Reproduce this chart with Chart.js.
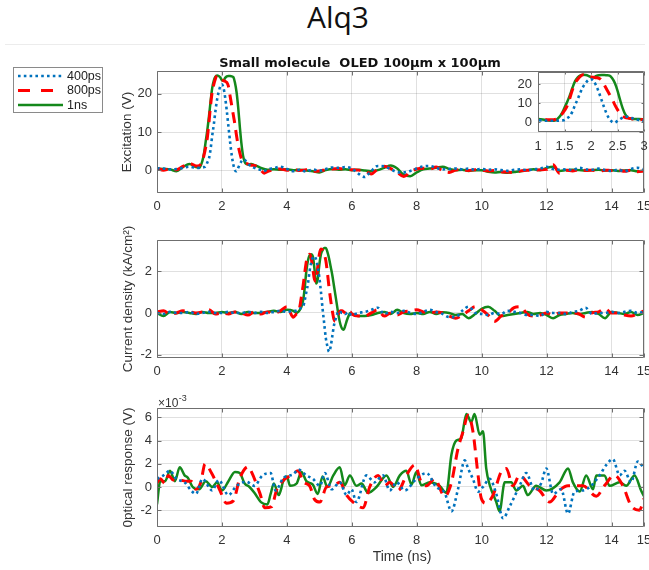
<!DOCTYPE html>
<html>
<head>
<meta charset="utf-8">
<script src="https://cdn.jsdelivr.net/npm/chart.js@4.4.1/dist/chart.umd.min.js"></script>
<style>
html,body{margin:0;padding:0;background:#fff;}
#wrap{position:relative;width:649px;height:570px;overflow:hidden;background:#fff;}
#wrap canvas{position:absolute;left:0;top:0;}
#ttl{position:absolute;left:238px;top:0;width:200px;text-align:center;font-family:'Open Sans',sans-serif;font-size:30px;line-height:34px;color:#111;}
#sep{position:absolute;left:5px;top:44px;width:640px;height:1px;background:#ececec;}
</style>
</head>
<body>
<div id="wrap">
  <div id="ttl">Alq3</div>
  <div id="sep"></div>
  <canvas id="c1" width="649" height="570"></canvas>
  <canvas id="c2" width="649" height="570"></canvas>
  <canvas id="c3" width="649" height="570"></canvas>
  <canvas id="c4" width="649" height="570"></canvas>
</div>
<script>
// ---------------- DATA ----------------
const seriesNames = ['400ps', '800ps', '1ns'];

// Panel 1: Excitation (V)
const t1 = [0,0.2,0.4,0.6,0.8,1.0,1.2,1.3,1.4,1.45,1.5,1.55,1.6,1.65,1.7,1.75,1.8,1.85,1.9,1.95,2.0,2.05,2.1,2.15,2.2,2.25,2.3,2.35,2.4,2.45,2.5,2.55,2.6,2.65,2.7,2.75,2.8,2.9,3.0,3.1,3.2,3.3,
  3.4,3.6,3.8,4.0,4.2,4.4,4.6,4.8,5.0,5.2,5.4,5.6,5.8,6.0,6.2,6.4,6.6,6.8,7.0,7.2,7.4,7.6,7.8,8.0,8.2,8.4,8.6,8.8,9.0,9.2,9.4,9.6,9.8,10.0,
  10.2,10.4,10.6,10.8,11.0,11.2,11.4,11.6,11.8,12.0,12.2,12.4,12.6,12.8,13.0,13.2,13.4,13.6,13.8,14.0,14.2,14.4,14.6,14.8,15.0];
const exc400 = [0.5,0.4,0.2,0.3,0.6,0.9,0.6, 0.6,0.7,
  0.8,1.0,2.0,3.0,5.5,9.0,12.0,15.5,18.5,20.5,22.0,22.5,21.5,19.0,15.5,11.5,7.5,4.0,1.5,0.0,-0.3,0.6,1.5,2.3,2.8,2.7,2.2,1.7,
  1.0,0.6,0.3,0.0,-0.2,
  0.2,0.5,0.9,0.3,-0.3,0.1,-0.4,0.2,-0.2,0.3, 0.7,0.6,0.8,0.4,-0.9,-1.8,-0.2,1.1,1.0,0.2,
  -0.5,-0.6,-0.2,0.4,1.0,1.1,0.6,0.2,0.3,0.4, 0.2,0.4,0.1,0.3,0.1,0.2,0.0,-0.2,0.1,0.2,
  0.0,0.2,0.4,0.9,0.3,0.1,0.2,0.0,0.6,0.2, 0.1,0.4,0.0,-0.2,0.1,-0.3,0.3,0.6,0.2];
const exc800 = [0.5,0.0,0.3,0.1,1.0,1.8,1.1, 1.2,2.5,
  4.0,6.0,8.5,12.5,17.0,20.5,22.5,24.0,24.8,24.5,24.0,23.7,23.5,23.3,23.0,22.0,19.5,17.0,14.5,12.0,9.0,6.5,4.5,3.0,2.3,2.0,1.8,1.6,
  1.3,1.2,0.8,0.0,-0.8,
  -0.4,0.1,0.3,0.0,0.2,-0.1,0.1,-0.3,-0.2,0.1, 0.3,0.4,0.2,0.1,0.0,-0.2,-1.0,0.3,1.0,0.4,
  -0.6,-1.7,-0.5,0.3,0.5,0.3,0.8,-0.2,-0.6,0.0, 0.2,-0.1,0.1,0.0,-0.2,-0.1,-0.4,-0.5,-0.7,-0.2,
  0.0,-0.1,0.1,0.2,1.4,-0.8,0.0,-0.2,0.1,-0.1, 0.0,-0.3,0.0,-0.1,0.1,-0.3,0.0,-0.4,-0.2];
const exc1ns = [0.4,0.3,0.2,-0.3,0.8,1.6,0.8, 0.6,2.5,
  4.5,7.5,10.5,14.0,18.0,21.5,23.5,24.5,24.8,24.7,24.3,23.6,23.5,24.2,24.6,24.7,24.7,24.6,24.4,23.0,20.5,16.5,11.5,7.0,3.8,2.2,1.6,1.5,
  1.6,1.3,1.0,0.6,0.3,
  0.1,0.2,0.1,0.2,0.0,0.1,-0.1,-0.3,-0.6,0.0, 0.3,0.1,0.2,0.0,0.1,-0.1,-0.3,0.0,0.6,1.2,
  0.4,-1.2,-1.6,-0.6,0.2,0.4,0.6,0.9,0.3,0.0, 0.1,-0.2,0.0,0.0,-0.4,-0.6,-0.5,-0.7,-0.5,-0.3,
  0.0,0.2,0.0,0.6,0.9,-0.2,0.0,0.1,0.0,-0.1, 0.0,0.1,-0.1,0.0,-0.2,-0.1,0.0,-0.3,-0.2];

// Panel 2: Current density (kA/cm^2)
const t2 = [0,0.2,0.4,0.6,0.8,1.0,1.2,1.4,1.6,1.8,2.0,2.2,2.4,2.6,2.8,3.0,3.2,3.4,3.6,3.8,4.0,4.2,
  4.3,4.35,4.4,4.45,4.5,4.55,4.6,4.65,4.7,4.75,4.8,4.85,4.9,4.95,5.0,5.05,5.1,5.15,5.2,5.25,5.3,5.35,5.4,5.45,5.5,5.55,5.6,5.65,5.7,5.75,5.8,5.85,5.9,5.95,6.0,
  6.2,6.4,6.6,6.8,7.0,7.2,7.4,7.6,7.8,8.0,8.2,8.4,8.6,8.8,9.0,9.2,9.4,9.6,9.8,10.0,
  10.2,10.4,10.6,10.8,11.0,11.2,11.4,11.6,11.8,12.0,12.2,12.4,12.6,12.8,13.0,13.2,13.4,13.6,13.8,14.0,14.2,14.4,14.6,14.8,15.0];
const cur400 = [0.0,-0.05,0.05,0.0,0.0,0.05,-0.05,0.0,0.05,0.0,0.0,0.05,0.0,0.0,0.05,0.0,0.05,0.0,0.05,0.1,0.05,0.1,
  0.1,0.15,0.2,0.25,0.3,0.6,1.0,1.4,2.0,2.4,2.65,2.7,2.55,2.2,1.7,1.0,0.2,-0.5,-1.2,-1.6,-1.85,-1.6,-1.1,-0.6,-0.3,-0.05,0.1,0.05,0.0,0.0,-0.05,0.0,0.05,-0.05,-0.1,
  0.0,0.05,0.15,0.25,-0.05,0.05,0.0,0.1,0.0,-0.05, 0.05,0.15,0.05,-0.05,-0.2,-0.2,0.1,0.3,0.0,-0.05,
  -0.1,0.0,-0.05,0.1,0.05,0.0,-0.1,-0.1,-0.15,0.05, 0.0,0.0,-0.05,0.05,0.1,0.25,-0.05,0.0,0.0,0.05, 0.0,0.05,0.1,0.0,0.05];
const cur800 = [0.05,0.1,-0.05,0.0,0.1,0.05,0.0,0.05,0.15,-0.05,0.0,-0.05,0.05,0.0,-0.1,0.05,-0.05,0.05,0.0,0.1,0.3,-0.2,
  -0.05,0.0,0.3,0.8,1.3,1.9,2.45,2.7,2.8,2.6,2.1,1.6,1.5,2.2,2.8,3.05,3.0,2.8,2.5,1.9,1.2,0.6,0.1,-0.3,-0.4,-0.2,0.0,0.1,0.1,0.05,0.0,-0.1,0.0,0.05,-0.05,
  -0.15,-0.15,0.0,0.15,-0.15,0.0,-0.1,0.05,0.1,0.15, 0.05,0.0,0.05,0.0,-0.15,-0.25,-0.1,0.1,0.3,0.15,
  -0.1,-0.4,-0.15,0.0,0.25,0.3,-0.05,-0.15,-0.1,0.0, -0.1,0.0,0.0,0.0,-0.05,-0.2,0.0,0.05,0.2,0.0, 0.0,-0.1,-0.15,-0.05,0.1];
const cur1ns = [0.0,-0.15,0.05,0.0,0.05,0.0,-0.05,0.05,0.0,0.0,0.05,0.0,0.05,-0.05,0.05,0.0,0.0,0.05,0.1,0.05,0.15,0.1,
  0.0,0.05,0.15,0.3,0.6,1.2,2.0,2.5,2.75,2.8,2.7,2.1,1.4,1.6,2.3,2.8,3.0,3.1,3.1,2.9,2.6,2.2,1.8,1.3,0.8,0.3,-0.2,-0.55,-0.75,-0.8,-0.6,-0.35,-0.15,0.0,-0.05,
  -0.15,-0.15,-0.1,0.0,0.05,-0.05,0.15,0.0,-0.05,0.0, -0.05,0.05,-0.05,0.03,0.0,-0.1,-0.05,-0.25,-0.05,0.2,
  0.3,0.1,-0.15,-0.1,-0.05,0.0,0.05,-0.05,0.0,-0.1, -0.25,-0.1,-0.05,0.0,-0.05,0.0,0.05,-0.05,-0.25,0.05, 0.0,-0.05,0.05,-0.1,0.0];

// Panel 3: Optical response (values in units of 1e-3 V)
const t3_400 = [0,0.2,0.4,0.6,0.85,1.05,1.2,1.4,1.7,1.9,2.2,2.45,2.75,3.0,3.25,3.5,3.65,3.9,4.2,4.35,4.6,4.8,5.02,5.17,5.38,5.63,5.84,5.99,6.14,6.45,
  6.7,6.96,7.17,7.38,7.63,7.99,8.3,8.6,8.86,9.07,9.27,9.48,9.58,9.73,9.89,10.04,10.25,10.45,10.66,10.86,11.17,11.37,11.63,11.83,11.99,12.2,12.45,12.66,12.86,13.12,
  13.37,13.63,13.84,14.04,14.25,14.4,14.6,14.81,15.0];
const opt400 = [0.7,1.0,1.4,0.7,0.4,-0.3,-0.6,0.7,-0.3,0.6,-0.7,0.1,0.45,0.1,1.0,1.2,-0.3,0.8,1.1,1.5,1.0,0.7,0.1,1.2,-0.2,0.4,-0.7,-0.2,-1.3,1.0,
  0.4,1.0,-0.3,0.4,-0.3,0.7,1.2,0.0,-0.5,-2.1,-0.2,2.3,1.6,0.7,-0.4,0.0,0.7,-0.6,-2.7,-1.7,0.1,1.2,-0.3,0.3,1.6,-0.6,-0.2,-2.3,-0.4,-0.3,
  0.1,1.0,1.9,2.4,1.0,1.4,0.4,2.2,1.6];
const t3_800 = [0,0.1,0.25,0.35,0.5,0.7,0.9,1.05,1.2,1.35,1.48,1.68,1.94,2.14,2.35,2.55,2.81,2.91,3.17,3.32,3.53,3.68,3.94,4.14,4.35,4.5,4.7,4.86,5.02,5.22,
  5.43,5.63,5.84,6.04,6.35,6.55,6.81,7.02,7.17,7.43,7.68,7.94,8.14,8.3,8.55,8.86,9.07,9.27,9.43,9.58,9.73,9.89,9.99,10.14,10.35,10.6,10.76,10.96,11.17,11.48,
  11.78,12.09,12.4,12.66,13.12,13.53,13.78,14.09,14.35,14.6,14.86,15.0];
const opt800 = [0.35,0.7,0.3,1.0,0.6,0.6,0.5,0.5,-0.2,0.4,2.0,1.2,-0.3,-1.4,-1.2,0.75,1.75,1.3,-0.55,-1.8,-1.7,-0.3,0.7,1.0,1.4,0.45,0.1,-1.1,-1.3,0.0,
  0.1,0.4,-0.7,-1.3,-1.8,0.0,1.0,0.1,0.4,-0.3,1.0,1.9,0.4,0.1,0.7,-0.8,0.4,3.3,4.8,6.2,4.8,1.0,-1.0,-1.4,-0.7,1.3,1.6,0.1,1.0,0.1,
  -0.3,-1.3,-0.3,0.1,0.1,-0.8,0.1,1.0,0.1,-1.6,-2.0,-1.0];
const t3_1ns = [0,0.1,0.25,0.4,0.55,0.7,0.85,0.95,1.1,1.3,1.5,1.7,1.85,2.0,2.2,2.4,2.55,2.7,2.85,3.0,3.2,3.4,3.5,3.6,3.75,3.9,4.0,4.1,4.3,4.45,
  4.6,4.8,4.95,5.1,5.25,5.43,5.63,5.78,5.94,6.14,6.3,6.5,6.76,7.07,7.27,7.48,7.68,7.84,7.99,8.14,8.4,8.7,8.91,9.07,9.22,9.37,9.53,9.68,9.78,9.94,
  10.04,10.14,10.25,10.45,10.55,10.71,10.91,11.07,11.27,11.42,11.68,11.99,12.4,12.66,12.81,13.02,13.22,13.43,13.53,13.78,13.94,14.25,14.45,14.71,14.91,15.0];
const opt1ns = [-1.5,0.5,0.5,1.4,0.5,1.7,1.0,0.8,0.0,-0.2,0.5,0.0,0.4,-0.3,0.5,1.3,1.2,0.3,0.0,-0.5,-1.3,-1.5,-0.6,0.3,-0.7,0.6,0.9,0.1,0.3,1.3,
  0.5,0.2,-0.6,0.9,0.0,1.0,1.7,0.15,1.0,0.1,0.3,-0.5,0.0,1.0,0.0,1.0,1.4,0.2,1.3,0.15,0.4,0.1,-0.5,2.8,4.0,4.2,6.3,5.6,6.3,4.5,
  4.8,1.6,0.15,-1.3,-2.1,0.4,0.4,-0.3,0.1,-0.7,0.1,-0.3,0.4,1.6,0.4,-0.4,1.0,-0.2,1.0,1.0,0.1,0.4,0.1,1.0,-0.3,-0.8];

// Tick labels
const timeTicks = [0,2,4,6,8,10,12,14,15];
const excTicks = [0,10,20];
const curTicks = [-2,0,2];
const optTicks = [-2,0,2,4,6];
const insetXTicks = [1,1.5,2,2.5,3];
const insetYTicks = [0,10,20];

// ---------------- STYLE ----------------
const W = 649, H = 570;
const FONT = "'Liberation Sans', Arial, Helvetica, sans-serif";
const GRID = 'rgba(38,38,38,0.14)';
const AXIS = '#6f6f6f';
const TXT = '#333333';
const STYLE = [
  {color: '#0072BD', width: 2.6, dash: [2.6, 3.2]},
  {color: '#FF0000', width: 3.0, dash: [11, 7]},
  {color: '#14881b', width: 2.5, dash: []}
];

function vText(c, str, x, y, size) {
  c.save(); c.translate(x, y); c.rotate(-Math.PI / 2);
  c.font = size + 'px ' + FONT; c.fillStyle = TXT; c.textAlign = 'center'; c.textBaseline = 'middle';
  c.fillText(str, 0, 0); c.restore();
}

function decor(p) {
  return {
    id: 'decor',
    beforeDraw(chart) {
      if (!p.whiteBg) return;
      const a = chart.chartArea, c = chart.ctx;
      c.save(); c.fillStyle = '#fff'; c.fillRect(a.left, a.top, a.right - a.left, a.bottom - a.top); c.restore();
    },
    afterDraw(chart) {
      const c = chart.ctx, a = chart.chartArea, sx = chart.scales.x, sy = chart.scales.y;
      c.save();
      c.strokeStyle = AXIS; c.lineWidth = 1; c.setLineDash([]);
      const L = Math.round(a.left) + 0.5, R = Math.round(a.right) - 0.5, T = Math.round(a.top) + 0.5, B = Math.round(a.bottom) - 0.5;
      c.beginPath();
      c.rect(L, T, R - L, B - T);
      sx.ticks.forEach(t => { const x = Math.round(sx.getPixelForValue(t.value)) + 0.5; c.moveTo(x, B); c.lineTo(x, B - p.tl); c.moveTo(x, T); c.lineTo(x, T + p.tl); });
      sy.ticks.forEach(t => { const y = Math.round(sy.getPixelForValue(t.value)) + 0.5; c.moveTo(L, y); c.lineTo(L + p.tl, y); c.moveTo(R, y); c.lineTo(R - p.tl, y); });
      c.stroke();
      c.restore();
      if (p.text) { c.save(); p.text(c, chart); c.restore(); }
    }
  };
}

function buildChart(id, p) {
  const datasets = p.series.map((s, i) => ({
    label: seriesNames[i],
    data: s.t.map((x, k) => ({x: x, y: s.v[k]})),
    borderColor: STYLE[i].color, borderWidth: STYLE[i].width, borderDash: STYLE[i].dash,
    pointRadius: 0, fill: false, cubicInterpolationMode: 'monotone',
    borderCapStyle: 'butt', borderJoinStyle: 'round'
  }));
  const b = p.box;
  return new Chart(document.getElementById(id), {
    type: 'line',
    data: {datasets},
    options: {
      responsive: false, animation: false, events: [],
      layout: {autoPadding: false, padding: {left: b.left - p.yw, top: b.top, right: W - b.right, bottom: H - b.bottom - p.xh}},
      plugins: {legend: {display: false}, tooltip: {enabled: false}},
      scales: {
        x: {
          type: 'linear', min: p.xr[0], max: p.xr[1],
          afterBuildTicks: sc => { sc.ticks = p.xt.map(v => ({value: v})); },
          afterFit: sc => { sc.height = p.xh; sc.paddingLeft = 0; sc.paddingRight = 0; },
          grid: {color: GRID, drawTicks: false, lineWidth: 1},
          border: {display: false},
          ticks: {padding: p.xpad, color: TXT, font: {family: FONT, size: 13}, maxRotation: 0, autoSkip: false, callback: v => String(v)}
        },
        y: {
          type: 'linear', min: p.yr[0], max: p.yr[1],
          afterBuildTicks: sc => { sc.ticks = p.yt.map(v => ({value: v})); },
          afterFit: sc => { sc.width = p.yw; sc.paddingTop = 0; sc.paddingBottom = 0; },
          grid: {color: GRID, drawTicks: false, lineWidth: 1},
          border: {display: false},
          ticks: {padding: p.ypad, color: TXT, font: {family: FONT, size: 13}, autoSkip: false, callback: v => String(v)}
        }
      }
    },
    plugins: [decor(p)]
  });
}

const excSeries = [{t: t1, v: exc400}, {t: t1, v: exc800}, {t: t1, v: exc1ns}];

// Panel 1
buildChart('c1', {
  series: excSeries, box: {left: 157, right: 644, top: 71, bottom: 193}, yw: 40, xh: 22, xpad: 6, ypad: 5, tl: 4,
  xr: [0, 15], yr: [-6, 26], xt: timeTicks, yt: excTicks,
  text(c) {
    // subplot title
    c.font = "bold 13px 'DejaVu Sans', sans-serif"; c.fillStyle = '#111'; c.textAlign = 'center'; c.textBaseline = 'alphabetic';
    c.fillText('Small molecule  OLED 100\u00b5m x 100\u00b5m', 360, 66.5);
    vText(c, 'Excitation (V)', 127, 132, 13.5);
    // legend
    c.fillStyle = '#fff'; c.fillRect(13.5, 67.5, 89, 45);
    c.strokeStyle = '#8a8a8a'; c.lineWidth = 1; c.strokeRect(13.5, 67.5, 89, 45);
    const rows = [76, 90.5, 105];
    const legDash = [[2.6, 3.2], [12, 11], []];
    rows.forEach((y, i) => {
      c.beginPath(); c.strokeStyle = STYLE[i].color; c.lineWidth = STYLE[i].width; c.setLineDash(legDash[i]);
      c.moveTo(18, y); c.lineTo(63, y); c.stroke();
      c.setLineDash([]);
      c.font = '12.5px ' + FONT; c.fillStyle = '#222'; c.textAlign = 'left'; c.textBaseline = 'middle';
      c.fillText(seriesNames[i], 67, y + 0.5);
    });
  }
});

// Panel 2
buildChart('c2', {
  series: [{t: t2, v: cur400}, {t: t2, v: cur800}, {t: t2, v: cur1ns}],
  box: {left: 157, right: 644, top: 240, bottom: 358}, yw: 40, xh: 22, xpad: 6, ypad: 5, tl: 4,
  xr: [0, 15], yr: [-2.15, 3.48], xt: timeTicks, yt: curTicks,
  text(c) { vText(c, 'Current density (kA/cm\u00b2)', 128, 299, 13.5); }
});

// Panel 3
buildChart('c3', {
  series: [{t: t3_400, v: opt400}, {t: t3_800, v: opt800}, {t: t3_1ns, v: opt1ns}],
  box: {left: 157, right: 644, top: 408, bottom: 527}, yw: 40, xh: 22, xpad: 6, ypad: 5, tl: 4,
  xr: [0, 15], yr: [-3.45, 6.81], xt: timeTicks, yt: optTicks,
  text(c) {
    vText(c, '0ptical response (V)', 128, 467.5, 13.5);
    c.font = '14px ' + FONT; c.fillStyle = TXT; c.textAlign = 'center'; c.textBaseline = 'alphabetic';
    c.fillText('Time (ns)', 402, 561);
    c.textAlign = 'left'; c.font = '12px ' + FONT;
    c.fillText('\u00d710', 158, 407);
    const w = c.measureText('\u00d710').width;
    c.font = '9px ' + FONT;
    c.fillText('-3', 158 + w + 0.5, 400.5);
  }
});

// Inset (zoom of panel 1)
buildChart('c4', {
  series: excSeries, box: {left: 538, right: 644, top: 72, bottom: 132}, yw: 30, xh: 20, xpad: 7, ypad: 6, tl: 2, whiteBg: true,
  xr: [1, 3], yr: [-5.3, 26.3], xt: insetXTicks, yt: insetYTicks
});
</script>
</body>
</html>
